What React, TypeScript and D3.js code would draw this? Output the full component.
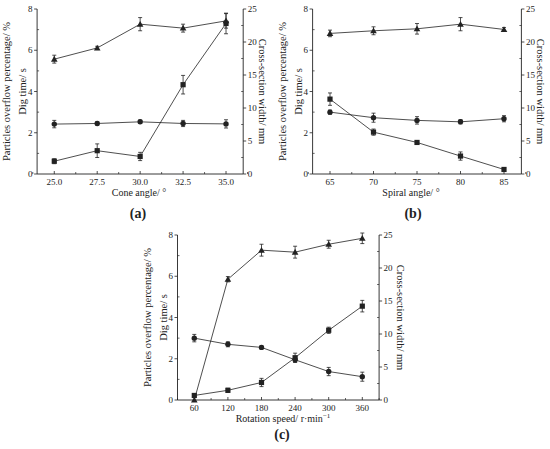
import * as d3 from 'd3';

// ---- data (left axis: % and s, right axis: mm) ----
const coneAngles = [25, 27.5, 30, 32.5, 35];
const coneWidth = [17.4, 19.1, 22.7, 22.1, 23.2];
const coneWidthErr = [0.6, 0.25, 1.0, 0.6, 1.1];
const coneDig = [2.42, 2.45, 2.53, 2.45, 2.43];
const coneDigErr = [0.18, 0.08, 0.08, 0.15, 0.2];
const coneOverflow = [0.62, 1.13, 0.85, 4.33, 7.3];
const coneOverflowErr = [0.12, 0.33, 0.2, 0.45, 0.5];

const spiralAngles = [65, 70, 75, 80, 85];
const spiralWidth = [21.3, 21.7, 22.0, 22.7, 21.9];
const spiralWidthErr = [0.5, 0.6, 0.8, 1.0, 0.3];
const spiralDig = [3.0, 2.73, 2.6, 2.53, 2.68];
const spiralDigErr = [0.1, 0.22, 0.18, 0.1, 0.15];
const spiralOverflow = [3.63, 2.03, 1.53, 0.87, 0.22];
const spiralOverflowErr = [0.3, 0.15, 0.05, 0.2, 0.04];

const speeds = [60, 120, 180, 240, 300, 360];
const speedWidth = [0, 18.3, 22.7, 22.4, 23.6, 24.5];
const speedWidthErr = [0, 0.4, 0.9, 0.9, 0.6, 0.8];
const speedDig = [3.0, 2.7, 2.55, 1.95, 1.38, 1.13];
const speedDigErr = [0.18, 0.12, 0.07, 0.12, 0.2, 0.22];
const speedOverflow = [0.22, 0.47, 0.85, 2.05, 3.38, 4.55];
const speedOverflowErr = [0.05, 0.1, 0.2, 0.22, 0.15, 0.28];

const leftTicks = [0, 2, 4, 6, 8];
const rightTicks = [0, 5, 10, 15, 20, 25];

const FONT = '"Liberation Serif", "Times New Roman", serif';
const INK = '#222';

type Series = { values: number[]; err: number[]; axis: 'left' | 'right'; marker: 'tri' | 'sq' | 'circ' };

interface PanelProps {
  x0: number; x1: number; y0: number; y1: number;
  xDomain: [number, number];
  xs: number[];
  xFmt: (v: number) => string;
  xLabel: React.ReactNode;
  xLabelX: number;
  tag: string; tagX: number; tagY: number;
  rightLab: number;
  series: Series[];
}

function Marker({ kind, x, y }: { kind: string; x: number; y: number }) {
  if (kind === 'tri') {
    const s = 3.3;
    return <path d={`M${x},${y - s}L${x + s},${y + s * 0.75}L${x - s},${y + s * 0.75}Z`} fill={INK} />;
  }
  if (kind === 'sq') return <rect x={x - 2.6} y={y - 2.6} width={5.2} height={5.2} fill={INK} />;
  return <circle cx={x} cy={y} r={2.7} fill={INK} />;
}

function Panel(p: PanelProps) {
  const x = d3.scaleLinear().domain(p.xDomain).range([p.x0, p.x1]);
  const yL = d3.scaleLinear().domain([0, 8]).range([p.y1, p.y0]);
  const yR = d3.scaleLinear().domain([0, 25]).range([p.y1, p.y0]);
  const line = d3.line<[number, number]>().x(d => d[0]).y(d => d[1]);
  const step = p.xs[1] - p.xs[0];
  const xMinor = [p.xs[0] - step / 2, ...p.xs.map(v => v + step / 2)];
  const cy = (p.y0 + p.y1) / 2;

  return (
    <g fontFamily={FONT} fill={INK}>
      {/* axes lines */}
      <line x1={p.x0} x2={p.x1} y1={p.y1} y2={p.y1} stroke={INK} strokeWidth={0.9} />
      <line x1={p.x0} x2={p.x0} y1={p.y0} y2={p.y1} stroke={INK} strokeWidth={0.9} />
      <line x1={p.x1} x2={p.x1} y1={p.y0} y2={p.y1} stroke={INK} strokeWidth={0.9} />

      {/* x ticks (inward) */}
      {p.xs.map(v => (
        <g key={'x' + v}>
          <line x1={x(v)} x2={x(v)} y1={p.y1} y2={p.y1 - 3} stroke={INK} strokeWidth={0.8} />
          <text x={x(v)} y={p.y1 + 10.5} fontSize={9} textAnchor="middle">{p.xFmt(v)}</text>
        </g>
      ))}
      {xMinor.map(v => (
        <line key={'xm' + v} x1={x(v)} x2={x(v)} y1={p.y1} y2={p.y1 - 2} stroke={INK} strokeWidth={0.7} />
      ))}

      {/* left ticks */}
      {leftTicks.map(v => (
        <g key={'l' + v}>
          <line x1={p.x0 - 3} x2={p.x0} y1={yL(v)} y2={yL(v)} stroke={INK} strokeWidth={0.8} />
          <text x={p.x0 - 4.5} y={yL(v) + 3} fontSize={9} textAnchor="end">{v}</text>
        </g>
      ))}
      {leftTicks.slice(0, -1).map(v => (
        <line key={'lm' + v} x1={p.x0} x2={p.x0 + 2} y1={yL(v + 1)} y2={yL(v + 1)} stroke={INK} strokeWidth={0.7} />
      ))}

      {/* right ticks */}
      {rightTicks.map(v => (
        <g key={'r' + v}>
          <line x1={p.x1} x2={p.x1 + 3} y1={yR(v)} y2={yR(v)} stroke={INK} strokeWidth={0.8} />
          <text x={p.x1 + 4.5} y={yR(v) + 3} fontSize={9} textAnchor="start">{v}</text>
        </g>
      ))}
      {rightTicks.slice(0, -1).map(v => (
        <line key={'rm' + v} x1={p.x1 - 2} x2={p.x1} y1={yR(v + 2.5)} y2={yR(v + 2.5)} stroke={INK} strokeWidth={0.7} />
      ))}

      {/* series */}
      {p.series.map((s, si) => {
        const ys = s.axis === 'left' ? yL : yR;
        const pts: [number, number][] = p.xs.map((v, i) => [x(v), ys(s.values[i])]);
        return (
          <g key={'s' + si}>
            <path d={line(pts) ?? ''} fill="none" stroke={INK} strokeWidth={0.8} />
            {p.xs.map((v, i) => {
              const e = s.err[i];
              if (!e) return null;
              const top = ys(s.values[i] + e);
              const bot = ys(s.values[i] - e);
              const cx = x(v);
              return (
                <g key={'e' + i} stroke={INK} strokeWidth={0.8}>
                  <line x1={cx} x2={cx} y1={top} y2={bot} />
                  <line x1={cx - 2} x2={cx + 2} y1={top} y2={top} />
                  <line x1={cx - 2} x2={cx + 2} y1={bot} y2={bot} />
                </g>
              );
            })}
            {pts.map((pt, i) => <Marker key={'m' + i} kind={s.marker} x={pt[0]} y={pt[1]} />)}
          </g>
        );
      })}

      {/* axis titles */}
      <text transform={`translate(${p.x0 - 27},${cy}) rotate(-90)`} fontSize={10.5} textAnchor="middle">
        Particles overflow percentage/ %
      </text>
      <text transform={`translate(${p.x0 - 11},${cy}) rotate(-90)`} fontSize={10.5} textAnchor="middle">
        Dig time/ s
      </text>
      <text transform={`translate(${p.rightLab},${cy}) rotate(90)`} fontSize={10.5} textAnchor="middle">
        Cross-section width/ mm
      </text>
      <text x={p.xLabelX} y={p.y1 + 22} fontSize={10} textAnchor="middle">{p.xLabel}</text>
      <text x={p.tagX} y={p.tagY} fontSize={14} textAnchor="middle" fontWeight="bold">
        ({p.tag})
      </text>
    </g>
  );
}

export default function App() {
  const f1 = d3.format('.1f');
  const f0 = d3.format('d');
  return (
    <div style={{ position: 'absolute', left: 0, top: 0 }}>
      <svg width={550} height={449} style={{ display: 'block', background: '#fff' }}>
        <Panel
          x0={37.1} x1={243.2} y0={9} y1={174}
          xDomain={[24, 36]} xs={coneAngles} xFmt={f1}
          xLabel="Cone angle/ °" xLabelX={139}
          tag="a" tagX={138} tagY={218}
          rightLab={258.5}
          series={[
            { values: coneWidth, err: coneWidthErr, axis: 'right', marker: 'tri' },
            { values: coneDig, err: coneDigErr, axis: 'left', marker: 'circ' },
            { values: coneOverflow, err: coneOverflowErr, axis: 'left', marker: 'sq' },
          ]}
        />
        <Panel
          x0={312.6} x1={521.4} y0={9} y1={174}
          xDomain={[63, 87]} xs={spiralAngles} xFmt={f0}
          xLabel="Spiral angle/ °" xLabelX={411}
          tag="b" tagX={413} tagY={218}
          rightLab={537}
          series={[
            { values: spiralWidth, err: spiralWidthErr, axis: 'right', marker: 'tri' },
            { values: spiralDig, err: spiralDigErr, axis: 'left', marker: 'circ' },
            { values: spiralOverflow, err: spiralOverflowErr, axis: 'left', marker: 'sq' },
          ]}
        />
        <Panel
          x0={177.5} x1={379.1} y0={235} y1={400}
          xDomain={[30, 390]} xs={speeds} xFmt={f0}
          xLabel={<>Rotation speed/ r·min<tspan dy={-4} fontSize={7}>−1</tspan></>}
          xLabelX={283}
          tag="c" tagX={282} tagY={439}
          rightLab={397}
          series={[
            { values: speedWidth, err: speedWidthErr, axis: 'right', marker: 'tri' },
            { values: speedDig, err: speedDigErr, axis: 'left', marker: 'circ' },
            { values: speedOverflow, err: speedOverflowErr, axis: 'left', marker: 'sq' },
          ]}
        />
      </svg>
    </div>
  );
}
